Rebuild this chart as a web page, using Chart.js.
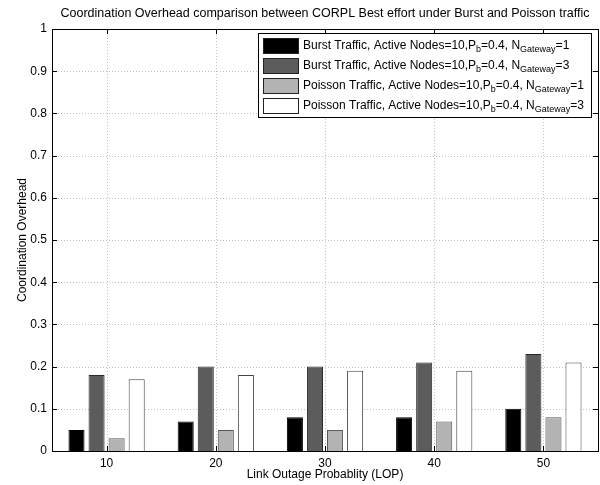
<!DOCTYPE html>
<html>
<head>
<meta charset="utf-8">
<title>Coordination Overhead</title>
<script src="https://cdn.jsdelivr.net/npm/chart.js@4.4.1/dist/chart.umd.min.js"></script>
<style>
  html, body { margin: 0; padding: 0; background: #fff; }
  #wrap { width: 600px; height: 485px; }
</style>
</head>
<body>
<div id="wrap"><canvas id="overheadChart" width="600" height="485"></canvas></div>
<script>
// link outage probability (%) on the x axis
const lop = ['10', '20', '30', '40', '50'];

// coordination overhead per scenario
const burstGw1 = [0.05, 0.07, 0.08, 0.08, 0.10];
const burstGw3 = [0.18, 0.20, 0.20, 0.21, 0.23];
const poissonGw1 = [0.03, 0.05, 0.05, 0.07, 0.08];
const poissonGw3 = [0.17, 0.18, 0.19, 0.19, 0.21];

const yTickLabels = ['0', '0.1', '0.2', '0.3', '0.4', '0.5', '0.6', '0.7', '0.8', '0.9', '1'];

// '_{...}' or '_x' marks a subscript in the legend text
const seriesLabels = [
  'Burst Traffic, Active Nodes=10,P_b=0.4, N_{Gateway}=1',
  'Burst Traffic, Active Nodes=10,P_b=0.4, N_{Gateway}=3',
  'Poisson Traffic, Active Nodes=10,P_b=0.4, N_{Gateway}=1',
  'Poisson Traffic, Active Nodes=10,P_b=0.4, N_{Gateway}=3'
];

const FONT = 'Liberation Sans, Arial, Helvetica, sans-serif';

function splitSub(str) {
  const parts = [];
  const re = /_\{([^}]*)\}|_(.)/g;
  let last = 0, m;
  while ((m = re.exec(str)) !== null) {
    if (m.index > last) parts.push({ t: str.slice(last, m.index), sub: false });
    parts.push({ t: m[1] !== undefined ? m[1] : m[2], sub: true });
    last = re.lastIndex;
  }
  if (last < str.length) parts.push({ t: str.slice(last), sub: false });
  return parts;
}

// dotted grid at every tick, under the bars
const dottedGrid = {
  id: 'dottedGrid',
  beforeDatasetsDraw(chart) {
    const { ctx, chartArea: a, scales: { x, y } } = chart;
    ctx.save();
    ctx.strokeStyle = '#c2c2c2';
    ctx.lineWidth = 1;
    ctx.setLineDash([1, 2]);
    ctx.beginPath();
    lop.forEach((_, i) => {
      const px = Math.round(x.getPixelForTick(i)) + 0.5;
      ctx.moveTo(px, a.top); ctx.lineTo(px, a.bottom);
    });
    yTickLabels.forEach(lbl => {
      const py = Math.round(y.getPixelForValue(parseFloat(lbl))) + 0.5;
      ctx.moveTo(a.left, py); ctx.lineTo(a.right, py);
    });
    ctx.stroke();
    ctx.restore();
  }
};

// box around the axes with inward ticks on all four sides
const matlabFrame = {
  id: 'matlabFrame',
  afterDatasetsDraw(chart) {
    const { ctx, chartArea: a, scales: { x, y } } = chart;
    const tick = 5;
    ctx.save();
    ctx.strokeStyle = '#000';
    ctx.lineWidth = 1;
    ctx.beginPath();
    lop.forEach((_, i) => {
      const px = Math.round(x.getPixelForTick(i)) + 0.5;
      ctx.moveTo(px, a.bottom); ctx.lineTo(px, a.bottom - tick);
      ctx.moveTo(px, a.top); ctx.lineTo(px, a.top + tick);
    });
    yTickLabels.forEach(lbl => {
      const py = Math.round(y.getPixelForValue(parseFloat(lbl))) + 0.5;
      ctx.moveTo(a.left, py); ctx.lineTo(a.left + tick, py);
      ctx.moveTo(a.right, py); ctx.lineTo(a.right - tick, py);
    });
    ctx.stroke();
    ctx.strokeRect(Math.round(a.left) + 0.5, Math.round(a.top) + 0.5,
      Math.round(a.right - a.left), Math.round(a.bottom - a.top));
    ctx.restore();
  }
};

// legend with subscripted text
const subLegend = {
  id: 'subLegend',
  afterDraw(chart) {
    const { ctx } = chart;
    const box = { x: 258, y: 33, w: 333, h: 84 };
    ctx.save();
    ctx.fillStyle = '#fff';
    ctx.fillRect(box.x, box.y, box.w, box.h);
    ctx.strokeStyle = '#000';
    ctx.lineWidth = 1;
    ctx.strokeRect(box.x + 0.5, box.y + 0.5, box.w, box.h);
    chart.data.datasets.forEach((ds, i) => {
      const cy = box.y + 13 + i * 20;
      ctx.fillStyle = ds.backgroundColor;
      ctx.fillRect(box.x + 5, cy - 8, 36, 16);
      ctx.strokeStyle = '#222';
      ctx.strokeRect(box.x + 5.5, cy - 7.5, 35, 15);
      let tx = box.x + 45;
      ctx.fillStyle = '#000';
      ctx.textBaseline = 'middle';
      splitSub(seriesLabels[i]).forEach(p => {
        ctx.font = (p.sub ? 9 : 12) + 'px ' + FONT;
        ctx.fillText(p.t, tx, p.sub ? cy + 4 : cy);
        tx += ctx.measureText(p.t).width;
      });
    });
    ctx.restore();
  }
};

const seriesData = [burstGw1, burstGw3, poissonGw1, poissonGw3];
const fills = ['#000000', '#5c5c5c', '#b3b3b3', '#ffffff'];
const edges = ['#000000', '#2a2a2a', '#555555', '#444444'];

new Chart(document.getElementById('overheadChart').getContext('2d'), {
  type: 'bar',
  data: {
    labels: lop,
    datasets: seriesData.map((d, i) => ({
      label: seriesLabels[i].replace(/_\{([^}]*)\}|_(.)/g, '$1$2'),
      data: d,
      backgroundColor: fills[i],
      borderColor: edges[i],
      borderWidth: 1,
      categoryPercentage: 0.735,
      barPercentage: 0.8
    }))
  },
  options: {
    responsive: false,
    animation: false,
    layout: { padding: { left: 0, right: 2, top: 0, bottom: 0 } },
    plugins: {
      legend: { display: false },
      tooltip: { enabled: false },
      title: {
        display: true,
        text: 'Coordination Overhead comparison between CORPL Best effort under Burst and Poisson traffic',
        color: '#000',
        fullSize: false,
        font: { family: FONT, size: 12.5, weight: 'normal' },
        padding: { top: 6, bottom: 8 }
      }
    },
    scales: {
      x: {
        grid: { display: false, drawTicks: false },
        border: { display: false },
        ticks: { color: '#000', padding: 5, font: { family: FONT, size: 12 } },
        title: {
          display: true,
          text: 'Link Outage Probablity (LOP)',
          color: '#000',
          font: { family: FONT, size: 12 },
          padding: { top: 0, bottom: 3 }
        },
        afterFit(scale) { scale.height = 34; }
      },
      y: {
        min: 0,
        max: 1,
        grid: { display: false, drawTicks: false },
        border: { display: false },
        ticks: {
          stepSize: 0.1,
          color: '#000',
          padding: 5,
          font: { family: FONT, size: 12 },
          callback: (v, i) => yTickLabels[i]
        },
        title: {
          display: true,
          text: 'Coordination Overhead',
          color: '#000',
          font: { family: FONT, size: 12 },
          padding: { top: 15, bottom: 0 }
        },
        afterFit(scale) { scale.width = 52; }
      }
    }
  },
  plugins: [dottedGrid, matlabFrame, subLegend]
});
</script>
</body>
</html>
